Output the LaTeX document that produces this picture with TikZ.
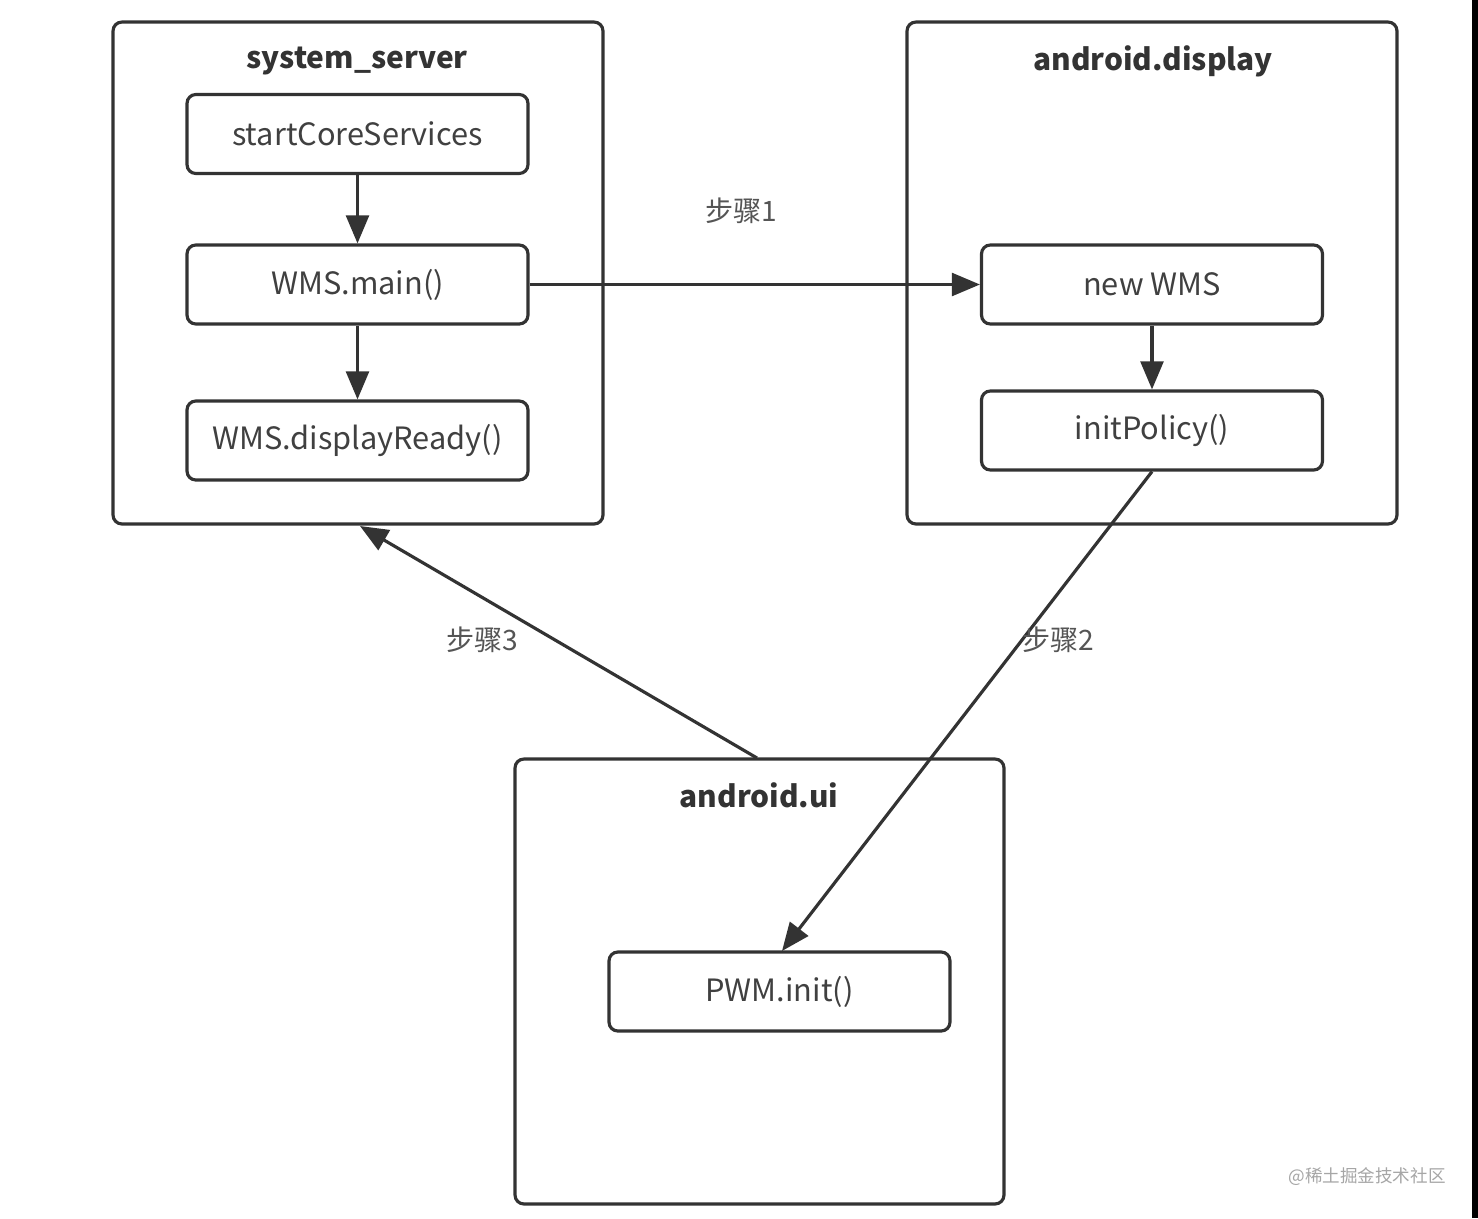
\documentclass[tikz,border=0pt]{standalone}
\usepackage{fontspec}
\setmainfont{Noto Sans CJK SC}
\usetikzlibrary{arrows.meta}
\definecolor{ln}{HTML}{333333}
\definecolor{tx}{HTML}{404040}
\definecolor{lb}{HTML}{555555}
\tikzset{
  group/.style={draw=ln,line width=1.8pt,rounded corners=5pt,minimum width=9.8cm,minimum height=10.04cm,inner sep=0pt},
  proc/.style={draw=ln,line width=1.8pt,rounded corners=5pt,minimum width=6.82cm,minimum height=1.58cm,inner sep=0pt,text=tx,font=\fontsize{17.5}{20}\selectfont},
  title/.style={text=ln,font=\fontsize{17}{20}\selectfont\bfseries},
  steplabel/.style={text=lb,font=\fontsize{16}{18}\selectfont},
  flow/.style={draw=ln,line width=1.8pt,-{Triangle[length=16pt,width=13pt]}}
}
\begin{document}
\begin{tikzpicture}[x=0.02cm,y=-0.02cm]
\useasboundingbox[fill=white] (0,0) rectangle (1478,1218);
\fill[black] (1472,0) rectangle (1478,1218);
% containers
\node[group] (ss) at (358,273) {};
\node[group] (ad) at (1152,273) {};
\node[group,minimum width=9.78cm,minimum height=8.9cm] (ui) at (759.5,981.5) {};
% titles
\node[title] (sst) at (357,61) {system\_server};
\node[title] (adt) at (1153,61) {android.display};
\node[title] (uit) at (759,795) {android.ui};
% process boxes
\node[proc] (scs) at (357.5,134) {startCoreServices};
\node[proc] (wmain) at (357.5,284.5) {WMS.main()};
\node[proc] (wdr) at (357.5,440.5) {WMS.displayReady()};
\node[proc] (nwms) at (1152,284.5) {new WMS};
\node[proc] (ipol) at (1152,430.5) {initPolicy()};
\node[proc] (pwm) at (779.5,991.5) {PWM.init()};
% connectors
\draw[flow] (scs.south) -- (wmain.north);
\draw[flow] (wmain.south) -- (wdr.north);
\draw[flow] (nwms.south) -- (ipol.north);
\draw[flow] (wmain.east) -- (nwms.west);
\coordinate (p2) at (782,951);
\draw[flow] (ipol.south) -- (p2);
\coordinate (ui3) at (757,758);
\coordinate (ss3) at (360,526);
\draw[flow] (ui3) -- (ss3);
% labels
\node[steplabel] (l1) at (741,211) {步骤1};
\node[steplabel] (l2) at (1058,640) {步骤2};
\node[steplabel] (l3) at (482,640) {步骤3};
\node[text=gray!70,font=\fontsize{10}{12}\selectfont] (wm) at (1367,1177) {@稀土掘金技术社区};
\end{tikzpicture}
\end{document}
